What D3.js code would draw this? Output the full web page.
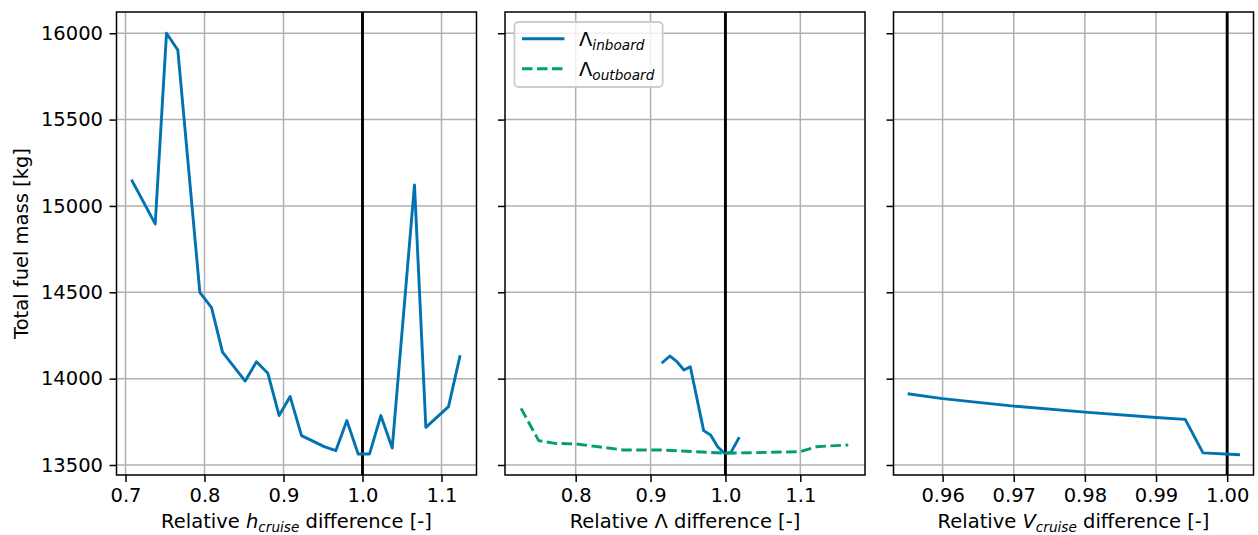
<!DOCTYPE html>
<html>
<head>
<meta charset="utf-8">
<script src="https://cdn.jsdelivr.net/npm/d3@7"></script>
<style>
  body { margin: 0; background: #fff; }
  svg { display: block; }
  text { font-family: "DejaVu Sans", sans-serif; fill: #000; }
</style>
</head>
<body>
<svg id="chart" width="1258" height="535"></svg>
<script>
// ---- data ----------------------------------------------------------
const fuelTicks = [13500, 14000, 14500, 15000, 15500, 16000];

// cruise altitude sweep
const hRel  = [0.7084, 0.7376, 0.7519, 0.7662, 0.7941, 0.8089, 0.8228, 0.8515,
               0.8658, 0.8802, 0.8945, 0.9084, 0.9228, 0.9515, 0.9662, 0.9802,
               0.9945, 1.0089, 1.0232, 1.0376, 1.0658, 1.0802, 1.1089, 1.1232];
const hFuel = [15145, 14896, 16000, 15903, 14500, 14411, 14153, 13986,
               14098, 14031, 13786, 13896, 13670, 13606, 13583, 13757,
               13564, 13564, 13786, 13598, 15122, 13718, 13838, 14127];
const hTicks = [0.7, 0.8, 0.9, 1.0, 1.1];

// sweep angle variation, inboard and outboard
const sweepInRel  = [0.9162, 0.9259, 0.9349, 0.9446, 0.9531, 0.9709, 0.9802,
                     0.9896, 0.9985, 1.0074, 1.0176];
const sweepInFuel = [14095, 14131, 14100, 14050, 14069, 13699, 13674,
                     13606, 13568, 13573, 13654];
const sweepOutRel  = [0.727, 0.7506, 0.7724, 0.8, 0.8636, 0.9126, 1.0,
                      1.0995, 1.1218, 1.164];
const sweepOutFuel = [13828, 13641, 13625, 13622, 13587, 13587, 13568,
                      13577, 13606, 13616];
const sweepTicks = [0.8, 0.9, 1.0, 1.1];

// cruise speed variation
const vRel  = [0.9553, 0.96, 0.97, 0.98, 0.99, 0.9941, 0.9966, 1.0016];
const vFuel = [13911, 13884, 13841, 13806, 13775, 13764, 13570, 13560];
const vTicks = [0.96, 0.97, 0.98, 0.99, 1.00];

const legendNames = ["inboard", "outboard"];

// ---- layout ----------------------------------------------------------
const FS = 19.5;
const SUB = FS * 0.7;
const SUB_DROP = 4;
const BLUE = "#0173B2", GREEN = "#029E73";
const plotTop = 12, plotBottom = 475, panelW = 360;
const svg = d3.select("#chart");

const y = d3.scaleLinear().domain([13442, 16123]).range([plotBottom, plotTop]);

const panels = [
  { left: 116.5, domain: [0.6886, 1.1443], ticks: hTicks, fmt: d3.format(".1f"),
    series: [{ x: hRel, y: hFuel, color: BLUE, dash: null }],
    label: [["Relative ", 0, 0], ["h", 1, 0], ["cruise", 1, 1], [" difference [-]", 0, 0]],
    yLabels: true },
  { left: 505, domain: [0.7056, 1.1864], ticks: sweepTicks, fmt: d3.format(".1f"),
    series: [{ x: sweepInRel, y: sweepInFuel, color: BLUE, dash: null },
             { x: sweepOutRel, y: sweepOutFuel, color: GREEN, dash: "10.5,4.5" }],
    label: [["Relative Λ difference [-]", 0, 0]],
    yLabels: false, legend: true },
  { left: 893.5, domain: [0.9531, 1.0037], ticks: vTicks, fmt: d3.format(".2f"),
    series: [{ x: vRel, y: vFuel, color: BLUE, dash: null }],
    label: [["Relative ", 0, 0], ["V", 1, 0], ["cruise", 1, 1], [" difference [-]", 0, 0]],
    yLabels: false }
];

// writes mathtext-like runs: [text, italic, subscript]
function writeRuns(textSel, runs) {
  let lowered = false;
  runs.forEach(([t, it, sub]) => {
    const ts = textSel.append("tspan").text(t)
      .attr("font-style", it ? "oblique" : "normal")
      .attr("font-size", sub ? SUB : FS);
    if (sub && !lowered) { ts.attr("dy", SUB_DROP); lowered = true; }
    else if (!sub && lowered) { ts.attr("dy", -SUB_DROP); lowered = false; }
  });
}

panels.forEach(p => {
  const x = d3.scaleLinear().domain(p.domain).range([p.left, p.left + panelW]);
  const g = svg.append("g");

  // grid
  g.selectAll(".gx").data(p.ticks).enter().append("line")
    .attr("x1", d => x(d)).attr("x2", d => x(d)).attr("y1", plotTop).attr("y2", plotBottom)
    .attr("stroke", "#b0b0b0").attr("stroke-width", 1.5);
  g.selectAll(".gy").data(fuelTicks).enter().append("line")
    .attr("x1", p.left).attr("x2", p.left + panelW).attr("y1", d => y(d)).attr("y2", d => y(d))
    .attr("stroke", "#b0b0b0").attr("stroke-width", 1.5);

  // reference design at ratio 1.0
  g.append("line")
    .attr("x1", x(1.0)).attr("x2", x(1.0)).attr("y1", plotTop).attr("y2", plotBottom)
    .attr("stroke", "#000").attr("stroke-width", 2.9);

  // data lines
  const line = d3.line().x(d => x(d[0])).y(d => y(d[1]));
  p.series.forEach(s => {
    g.append("path")
      .datum(s.x.map((v, i) => [v, s.y[i]]))
      .attr("d", line)
      .attr("fill", "none").attr("stroke", s.color).attr("stroke-width", 2.9)
      .attr("stroke-linejoin", "round").attr("stroke-linecap", s.dash ? "butt" : "square")
      .attr("stroke-dasharray", s.dash);
  });

  // axes frame
  g.append("rect")
    .attr("x", p.left).attr("y", plotTop).attr("width", panelW).attr("height", plotBottom - plotTop)
    .attr("fill", "none").attr("stroke", "#000").attr("stroke-width", 1.5);

  // x axis
  const xa = g.append("g").attr("transform", `translate(0,${plotBottom})`)
    .call(d3.axisBottom(x).tickValues(p.ticks).tickFormat(p.fmt).tickSize(7).tickPadding(6.5));
  xa.select(".domain").remove();
  xa.selectAll(".tick line").attr("stroke", "#000").attr("stroke-width", 1.5);
  xa.selectAll(".tick text").attr("font-size", FS).attr("font-family", "DejaVu Sans")
    .attr("fill", "#000");

  // y axis
  const ya = g.append("g").attr("transform", `translate(${p.left},0)`)
    .call(d3.axisLeft(y).tickValues(fuelTicks).tickFormat(p.yLabels ? d3.format("d") : "")
      .tickSize(7).tickPadding(6.5));
  ya.select(".domain").remove();
  ya.selectAll(".tick line").attr("stroke", "#000").attr("stroke-width", 1.5);
  ya.selectAll(".tick text").attr("font-size", FS).attr("font-family", "DejaVu Sans")
    .attr("fill", "#000");

  // x label
  const xl = g.append("text").attr("x", p.left + panelW / 2).attr("y", 527.5)
    .attr("text-anchor", "middle");
  writeRuns(xl, p.label);

  // legend
  if (p.legend) {
    const lg = g.append("g");
    const box = lg.append("rect")
      .attr("x", p.left + 9.5).attr("y", 22).attr("height", 65).attr("rx", 4)
      .attr("fill", "#fff").attr("fill-opacity", 0.8)
      .attr("stroke", "#cccccc").attr("stroke-width", 1.8);
    let maxRight = 0;
    p.series.forEach((s, i) => {
      const ly = 38.7 + i * 30;
      lg.append("line")
        .attr("x1", p.left + 17).attr("x2", p.left + 59.5).attr("y1", ly).attr("y2", ly)
        .attr("stroke", s.color).attr("stroke-width", 2.9).attr("stroke-dasharray", s.dash);
      const t = lg.append("text").attr("x", p.left + 74).attr("y", ly + 6.8);
      writeRuns(t, [["Λ", 0, 0], [legendNames[i], 1, 1]]);
      const bb = t.node().getBBox();
      maxRight = Math.max(maxRight, bb.x + bb.width);
    });
    box.attr("width", maxRight + 8 - (p.left + 9.5));
  }
});

// shared y label
svg.append("text")
  .attr("transform", `translate(28,${(plotTop + plotBottom) / 2}) rotate(-90)`)
  .attr("text-anchor", "middle").attr("font-size", FS)
  .text("Total fuel mass [kg]");
</script>
</body>
</html>
